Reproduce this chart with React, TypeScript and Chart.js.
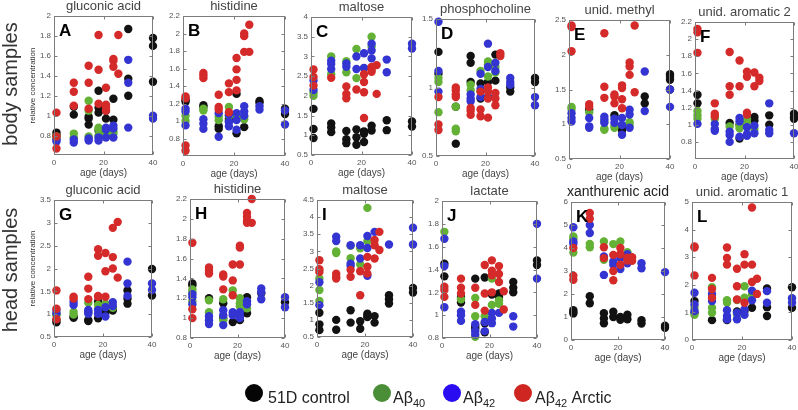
import { useEffect, useRef } from 'react';
import { Chart, registerables } from 'chart.js';

Chart.register(...registerables);

type Pt = [number, number];

// ---------- DATA: [age (days), relative concentration] ----------
const A_black: Pt[] = [[1,.83],[1,.80],[8,1.09],[8,1.01],[14,.99],[14,.97],[14,.91],[18,1.25],[18,1.08],[18,1.03],[18,.85],[21,1.05],[21,.97],[24,1.17],[24,.96],[30,1.87],[30,1.37],[30,1.20],[40,1.78],[40,1.70],[40,1.34]];
const A_green: Pt[] = [[1,.79],[1,.77],[8,.82],[8,.78],[14,1.15],[14,1.05],[14,.79],[18,.88],[18,.86],[18,.80],[21,.83],[21,.80],[24,.84],[24,.82]];
const A_blue: Pt[] = [[1,.76],[1,.74],[8,.76],[8,.73],[14,.77],[14,.75],[18,.78],[18,.75],[21,.88],[21,.86],[21,.78],[24,.90],[24,.87],[24,.78],[30,1.56],[30,1.33],[30,.88],[40,1.00],[40,.97]];
const A_red: Pt[] = [[1,1.03],[1,.79],[1,.67],[8,1.33],[8,1.24],[8,1.10],[14,1.50],[14,1.33],[14,1.07],[18,1.81],[18,1.46],[18,1.12],[21,1.28],[21,1.11],[21,1.08],[21,1.05],[24,1.57],[24,1.55],[24,1.49],[26,1.81],[26,1.42]];

const B_black: Pt[] = [[1,1.24],[1,1.22],[8,1.18],[8,1.16],[14,.94],[14,.91],[18,1.03],[18,1.00],[21,1.31],[21,.86],[24,.93],[30,1.23],[30,1.21],[40,1.14],[40,1.08]];
const B_green: Pt[] = [[1,1.06],[1,1.00],[8,1.14],[8,1.12],[14,1.05],[14,1.01],[18,1.16],[18,1.06],[21,1.04],[24,1.05],[24,1.02]];
const B_blue: Pt[] = [[1,1.14],[1,1.11],[1,.95],[8,1.02],[8,.97],[8,.91],[14,1.09],[14,.82],[18,1.07],[18,.99],[18,.94],[21,1.09],[21,1.01],[21,.90],[24,1.17],[24,1.11],[24,1.06],[30,1.17],[30,1.13],[40,1.12],[40,.96]];
const B_red: Pt[] = [[1,1.28],[1,1.26],[1,.72],[1,.66],[8,1.55],[8,1.52],[8,1.49],[14,1.30],[14,1.16],[14,1.13],[18,1.43],[18,1.33],[18,1.10],[21,1.72],[21,1.59],[21,1.47],[21,1.35],[24,2.00],[24,1.97],[24,1.79],[26,2.10],[26,1.79]];

const C_black: Pt[] = [[1,1.67],[1,1.16],[1,.93],[8,1.30],[8,1.20],[8,1.08],[14,1.11],[14,.90],[14,.80],[18,1.15],[18,.95],[18,.76],[21,1.10],[21,1.04],[21,.83],[24,1.24],[24,1.12],[30,1.38],[30,1.13],[40,1.35],[40,1.22]];
const C_green: Pt[] = [[1,2.08],[1,2.00],[8,3.00],[8,2.55],[14,2.88],[14,2.60],[18,3.19],[18,2.45],[21,2.70],[24,3.50],[24,3.25]];
const C_blue: Pt[] = [[1,2.39],[1,2.15],[8,2.89],[8,2.81],[8,2.68],[14,2.82],[14,2.74],[18,3.00],[18,2.68],[21,3.08],[21,2.71],[24,3.32],[24,3.15],[24,2.95],[30,2.92],[30,2.60],[40,3.32],[40,3.20]];
const C_red: Pt[] = [[1,2.67],[1,2.48],[1,2.26],[8,2.46],[14,2.24],[14,2.05],[14,1.94],[18,2.16],[21,2.55],[21,2.35],[21,2.09],[21,1.44],[24,2.73],[24,2.66],[24,2.61],[26,2.78],[26,2.05]];

const D_black: Pt[] = [[1,1.26],[1,1.10],[8,.86],[8,.59],[14,1.23],[14,1.18],[14,1.04],[18,1.03],[18,.92],[21,1.04],[21,.93],[24,1.24],[24,1.05],[30,1.00],[30,.97],[40,1.07],[40,1.04]];
const D_green: Pt[] = [[1,1.07],[1,1.04],[1,.82],[8,.86],[8,.70],[8,.68],[14,1.02],[14,.98],[18,1.12],[18,.97],[21,1.19],[21,1.17],[21,1.08],[24,1.15],[24,1.11]];
const D_blue: Pt[] = [[1,1.48],[1,1.12],[1,.97],[14,.95],[14,.92],[14,.90],[18,1.10],[18,.99],[18,.93],[21,1.32],[21,1.15],[21,.93],[24,1.18],[24,1.12],[30,1.07],[30,1.04],[30,1.02],[40,.93],[40,.87]];
const D_red: Pt[] = [[1,.93],[1,.73],[1,.69],[8,1.00],[8,.98],[8,.95],[8,.93],[14,.85],[14,.83],[14,.80],[18,.97],[18,.84],[18,.79],[21,1.00],[21,.97],[21,.92],[21,.78],[24,.96],[24,.92],[24,.87],[26,1.25],[26,1.23]];

const E_black: Pt[] = [[8,1.21],[18,1.13],[21,.94],[21,.91],[30,1.40],[30,1.30],[40,1.72],[40,1.68],[40,1.64],[40,1.50]];
const E_green: Pt[] = [[1,1.25],[1,1.22],[8,1.17],[14,1.04],[14,.94],[14,.92],[18,.98],[18,.95],[24,1.03],[24,.99]];
const E_blue: Pt[] = [[1,1.16],[1,1.09],[1,1.04],[8,1.09],[8,.97],[8,.95],[14,1.11],[14,1.07],[14,1.02],[18,1.08],[18,1.02],[21,1.09],[21,.99],[21,.85],[24,1.21],[24,1.14],[24,.95],[30,1.76],[30,1.19],[40,1.50],[40,1.25]];
const E_red: Pt[] = [[1,2.42],[1,2.40],[1,2.05],[8,1.29],[8,1.25],[14,2.31],[14,1.54],[14,1.38],[18,1.43],[18,1.40],[18,1.30],[21,1.56],[21,1.52],[21,1.36],[21,1.23],[24,1.89],[24,1.83],[24,1.71],[26,2.42],[26,1.46]];

const F_black: Pt[] = [[1,1.35],[1,1.25],[14,1.02],[18,1.00],[18,.84],[24,1.09],[24,1.05],[30,1.11],[30,1.00],[40,1.13],[40,1.09],[40,1.07]];
const F_green: Pt[] = [[1,1.16],[1,1.11],[1,1.07],[8,1.07],[14,.98],[18,.99],[18,.96],[21,1.06],[21,1.03],[24,.95]];
const F_blue: Pt[] = [[1,1.01],[8,1.01],[8,.95],[8,.93],[14,.92],[14,.88],[14,.80],[18,1.08],[18,1.04],[18,.86],[21,.97],[21,.89],[21,.87],[24,.99],[24,.90],[30,1.25],[30,.94],[30,.90],[40,.90]];
const F_red: Pt[] = [[1,2.12],[1,2.08],[1,1.84],[8,1.25],[8,1.13],[8,1.10],[14,1.85],[14,1.45],[14,1.35],[18,1.75],[18,1.45],[21,1.62],[21,1.56],[21,1.14],[21,1.12],[24,1.61],[24,1.45],[26,1.55],[26,1.51]];

const G_black: Pt[] = [[1,.87],[1,.82],[8,.94],[8,.92],[14,.87],[14,.85],[18,1.28],[18,.91],[21,1.10],[21,1.03],[24,1.12],[24,1.08],[30,1.52],[30,1.34],[30,1.23],[40,1.99],[40,1.41]];
const G_green: Pt[] = [[1,1.00],[1,.98],[8,1.05],[8,.99],[14,1.25],[14,1.05],[18,1.20],[18,1.12],[21,1.23],[21,1.18],[24,1.14]];
const G_blue: Pt[] = [[1,1.09],[1,1.02],[8,1.27],[8,1.20],[14,1.09],[14,1.05],[14,1.01],[18,1.09],[18,1.01],[21,1.15],[21,.95],[24,1.26],[24,1.18],[30,2.15],[30,1.67],[30,1.40],[40,1.67],[40,1.53]];
const G_red: Pt[] = [[1,1.52],[1,1.12],[1,.89],[8,1.38],[8,1.34],[14,1.82],[14,1.56],[14,1.33],[18,2.42],[18,2.28],[18,1.40],[18,1.38],[21,2.34],[21,1.94],[21,1.38],[24,2.89],[24,2.25],[24,2.00],[26,3.02],[26,1.80]];

const H_black: Pt[] = [[1,1.35],[1,1.33],[8,1.20],[14,1.15],[14,1.00],[18,.96],[21,.98],[24,1.21],[24,1.05],[30,1.25],[40,1.16]];
const H_green: Pt[] = [[1,1.29],[1,1.26],[1,1.17],[8,1.18],[8,1.06],[14,1.19],[14,.98],[18,1.28],[21,1.20],[21,1.15],[21,1.12],[24,1.10]];
const H_blue: Pt[] = [[1,1.24],[1,1.21],[1,1.14],[8,1.02],[8,.98],[8,.94],[14,1.08],[14,1.03],[14,.93],[18,1.06],[18,1.03],[21,1.06],[21,1.02],[21,1.00],[24,1.17],[24,1.14],[30,1.30],[30,1.26],[30,1.19],[40,1.21],[40,1.11]];
const H_red: Pt[] = [[1,1.76],[1,1.09],[1,1.00],[8,1.51],[8,1.48],[8,1.45],[14,1.44],[14,1.42],[14,1.29],[18,1.54],[18,1.38],[18,1.23],[21,1.73],[21,1.71],[21,1.54],[24,2.06],[24,2.02],[24,1.98],[24,1.96],[26,2.20],[26,1.96]];

const I_black: Pt[] = [[1,1.21],[1,.87],[1,.70],[8,1.00],[8,.71],[14,1.28],[14,.92],[18,.96],[18,.74],[21,1.18],[21,1.12],[21,1.08],[24,1.11],[24,.92],[30,1.72],[30,1.60],[30,1.48],[40,1.93],[40,1.80]];
const I_green: Pt[] = [[1,2.21],[1,1.87],[1,1.55],[8,3.00],[8,2.95],[14,3.16],[14,2.80],[18,3.09],[18,2.62],[21,4.27],[21,3.30]];
const I_blue: Pt[] = [[1,2.10],[1,1.43],[8,3.43],[8,3.30],[14,3.18],[14,2.64],[14,2.57],[18,3.18],[18,2.79],[21,3.45],[21,3.10],[21,2.29],[24,3.57],[30,3.20],[40,3.69],[40,3.20]];
const I_red: Pt[] = [[1,2.74],[1,2.48],[1,2.40],[8,2.35],[8,2.26],[8,2.21],[14,2.46],[14,2.26],[18,2.42],[18,1.72],[21,2.84],[21,2.55],[21,2.35],[24,3.33],[24,3.18],[24,2.79],[26,3.57],[26,3.04]];

const J_black: Pt[] = [[1,1.45],[1,1.34],[8,1.16],[8,1.11],[14,1.32],[14,.90],[14,.88],[18,1.33],[18,.93],[18,.85],[21,1.18],[24,1.19],[24,1.16],[30,1.29],[30,1.24],[30,1.20],[40,1.48],[40,1.44]];
const J_green: Pt[] = [[1,1.73],[8,1.14],[14,1.15],[14,.99],[14,.81],[18,.99],[21,1.32],[21,1.09],[24,1.13],[24,1.10]];
const J_blue: Pt[] = [[1,1.67],[1,1.43],[1,1.07],[8,1.03],[8,1.00],[8,.95],[14,.92],[14,.86],[14,.83],[18,.94],[18,.86],[21,1.02],[21,.97],[21,.93],[24,1.02],[30,.99],[30,.90],[40,1.80],[40,1.32]];
const J_red: Pt[] = [[1,1.25],[1,1.22],[1,1.16],[8,1.32],[8,1.24],[8,1.19],[14,1.24],[14,1.09],[18,1.44],[18,1.19],[18,1.04],[21,1.48],[21,1.39],[21,1.35],[21,1.20],[24,1.43],[24,1.36],[24,1.29],[26,1.21],[26,1.05]];

const K_black: Pt[] = [[1,1.30],[1,1.22],[1,1.15],[8,1.90],[8,1.60],[14,1.16],[14,.94],[14,.73],[18,1.23],[18,1.00],[21,1.00],[21,.88],[24,1.10],[24,.90],[30,.86],[30,.72],[40,.62],[40,.53]];
const K_green: Pt[] = [[1,4.50],[1,4.40],[1,3.80],[8,4.18],[8,4.03],[14,4.28],[14,3.49],[18,4.17],[21,4.28],[24,3.82]];
const K_blue: Pt[] = [[1,4.90],[1,4.28],[1,4.18],[8,5.00],[8,4.65],[14,3.63],[14,2.83],[18,3.41],[18,3.27],[21,3.56],[21,3.09],[24,3.73],[24,3.34],[30,3.34],[30,3.12],[40,2.95]];
const K_red: Pt[] = [[1,4.00],[1,2.80],[1,2.62],[8,5.52],[8,5.27],[14,4.03],[14,3.56],[18,3.70],[18,3.00],[18,2.60],[21,4.00],[21,3.73],[21,3.27],[24,3.58],[24,3.45],[26,3.60],[26,3.44]];

const L_black: Pt[] = [[1,1.41],[1,.99],[8,.72],[14,.72],[18,1.03],[21,1.05],[24,1.17],[30,1.87],[30,1.19],[30,.87],[40,1.91],[40,1.17]];
const L_green: Pt[] = [[1,1.17],[1,.91],[8,1.91],[8,1.17],[8,.99],[14,1.44],[14,1.35],[18,1.45],[18,.93],[21,1.95],[21,1.53],[24,1.65]];
const L_blue: Pt[] = [[1,1.71],[1,1.29],[1,1.05],[8,1.67],[8,1.41],[14,1.08],[14,.87],[14,.75],[18,.99],[18,.75],[21,1.11],[21,.91],[24,1.79],[24,1.44],[30,1.77],[30,1.35],[40,1.51],[40,1.35]];
const L_red: Pt[] = [[1,3.39],[1,3.35],[1,2.34],[8,2.25],[8,1.85],[8,1.53],[14,3.35],[14,2.97],[14,2.73],[18,2.58],[18,1.95],[18,1.47],[21,3.11],[21,2.73],[21,1.35],[24,4.80],[24,2.73],[24,2.10],[26,2.22],[26,1.67]];

// ---------- TICKS ----------
const X_TICKS = [0, 20, 40];
const T_08_20 = [0.8, 1, 1.2, 1.4, 1.6, 1.8, 2];
const T_08_22 = [0.8, 1, 1.2, 1.4, 1.6, 1.8, 2, 2.2];
const T_05_40 = [0.5, 1, 1.5, 2, 2.5, 3, 3.5, 4];
const T_05_15 = [0.5, 1, 1.5];
const T_05_25 = [0.5, 1, 1.5, 2, 2.5];
const T_05_35 = [0.5, 1, 1.5, 2, 2.5, 3, 3.5];
const T_05_45 = [0.5, 1, 1.5, 2, 2.5, 3, 3.5, 4, 4.5];
const T_0_6 = [0, 1, 2, 3, 4, 5, 6];
const T_0_5 = [0, 1, 2, 3, 4, 5];

const GROUP_NAMES = ['51D control', 'Aβ40', 'Aβ42', 'Aβ42 Arctic'];
const DOT_COLORS = ['#121212', '#63b236', '#3434d2', '#d42a2a'];
const LEGEND_COLORS = ['#050505', '#4a8e37', '#2a0cf0', '#d02622'];

const FONT = '"Liberation Sans", Arial, Helvetica, sans-serif';

interface Panel {
  title: string;
  letter: string;
  box: [number, number, number, number];
  yMin: number;
  yMax: number;
  yTicks: number[];
  groups: Pt[][];
  yTitle?: boolean;
  big?: boolean;
}

const PANELS: Panel[] = [
  { title: 'gluconic acid', letter: 'A', box: [54, 16, 153, 155], yMin: 0.605, yMax: 2, yTicks: T_08_20, groups: [A_black, A_green, A_blue, A_red], yTitle: true },
  { title: 'histidine', letter: 'B', box: [183, 16, 285, 156], yMin: 0.6, yMax: 2.2, yTicks: T_08_22, groups: [B_black, B_green, B_blue, B_red] },
  { title: 'maltose', letter: 'C', box: [311, 17, 412, 155], yMin: 0.5, yMax: 4, yTicks: T_05_40, groups: [C_black, C_green, C_blue, C_red] },
  { title: 'phosphocholine', letter: 'D', box: [436, 19, 535, 156], yMin: 0.5, yMax: 1.5, yTicks: T_05_15, groups: [D_black, D_green, D_blue, D_red] },
  { title: 'unid. methyl', letter: 'E', box: [569, 20, 670, 159], yMin: 0.5, yMax: 2.5, yTicks: T_05_25, groups: [E_black, E_green, E_blue, E_red] },
  { title: 'unid. aromatic 2', letter: 'F', box: [695, 22, 794, 159], yMin: 0.6, yMax: 2.2, yTicks: T_08_22, groups: [F_black, F_green, F_blue, F_red] },
  { title: 'gluconic acid', letter: 'G', box: [54, 200, 152, 337], yMin: 0.5, yMax: 3.5, yTicks: T_05_35, groups: [G_black, G_green, G_blue, G_red], yTitle: true },
  { title: 'histidine', letter: 'H', box: [190, 199, 285, 338], yMin: 0.8, yMax: 2.2, yTicks: T_08_22, groups: [H_black, H_green, H_blue, H_red] },
  { title: 'maltose', letter: 'I', box: [317, 200, 413, 337], yMin: 0.5, yMax: 4.5, yTicks: T_05_45, groups: [I_black, I_green, I_blue, I_red] },
  { title: 'lactate', letter: 'J', box: [442, 201, 537, 338], yMin: 0.8, yMax: 2, yTicks: T_08_20, groups: [J_black, J_green, J_blue, J_red] },
  { title: 'xanthurenic acid', letter: 'K', box: [571, 202, 665, 340], yMin: 0, yMax: 6, yTicks: T_0_6, groups: [K_black, K_green, K_blue, K_red], big: true },
  { title: 'unid. aromatic 1', letter: 'L', box: [692, 202, 792, 340], yMin: 0, yMax: 5, yTicks: T_0_5, groups: [L_black, L_green, L_blue, L_red] },
];

const Y_W = 28;
const PAD_T = 8;
const PAD_R = 10;
const X_H = 24;

const fmt = (v: number) => String(Math.round(v * 100) / 100);

function PanelChart({ p }: { p: Panel }) {
  const ref = useRef<HTMLCanvasElement>(null);
  const [l, t, r, b] = p.box;
  const W = r - l + Y_W + PAD_R;
  const H = b - t + PAD_T + X_H;

  useEffect(() => {
    if (!ref.current) return;
    const frame = {
      id: 'frame',
      afterDatasetsDraw(chart: any) {
        const { ctx, chartArea: a, scales } = chart;
        ctx.save();
        ctx.strokeStyle = '#7c7c7c';
        ctx.lineWidth = 1;
        const L = Math.round(a.left) + 0.5;
        const R = Math.round(a.right) - 0.5;
        const T = Math.round(a.top) + 0.5;
        const B = Math.round(a.bottom) - 0.5;
        ctx.beginPath();
        for (const tk of scales.y.ticks) {
          const y = Math.round(scales.y.getPixelForValue(tk.value)) + 0.5;
          ctx.moveTo(L, y); ctx.lineTo(L + 3, y);
          ctx.moveTo(R, y); ctx.lineTo(R - 3, y);
        }
        for (const tk of scales.x.ticks) {
          const x = Math.round(scales.x.getPixelForValue(tk.value)) + 0.5;
          ctx.moveTo(x, B); ctx.lineTo(x, B - 3);
          ctx.moveTo(x, T); ctx.lineTo(x, T + 3);
        }
        ctx.stroke();
        ctx.strokeRect(L, T, R - L, B - T);
        ctx.restore();
      },
    };
    const order = [3, 2, 1, 0];
    const chart = new Chart(ref.current, {
      type: 'scatter',
      data: {
        datasets: order.map((gi) => ({
          label: GROUP_NAMES[gi],
          data: p.groups[gi].map(([x, y]) => ({ x, y })),
          backgroundColor: DOT_COLORS[gi],
          borderWidth: 0,
          pointRadius: 4.2,
          pointBorderWidth: 0,
          clip: false as any,
        })),
      },
      options: {
        responsive: false,
        animation: false,
        events: [],
        devicePixelRatio: 1,
        layout: { padding: { top: PAD_T, right: PAD_R, left: 0, bottom: 0 } },
        plugins: { legend: { display: false }, tooltip: { enabled: false }, title: { display: false } },
        scales: {
          x: {
            type: 'linear',
            min: 0,
            max: 40,
            grid: { display: false, drawTicks: false },
            border: { display: false },
            afterBuildTicks: (s: any) => { s.ticks = X_TICKS.map((v) => ({ value: v })); },
            afterFit: (s: any) => { s.height = X_H; s.paddingLeft = 0; s.paddingRight = 0; },
            ticks: { color: '#555', font: { family: FONT, size: 8 }, padding: 3, autoSkip: false, maxRotation: 0, callback: (v: any) => fmt(Number(v)) },
            title: { display: true, text: 'age (days)', color: '#444', font: { family: FONT, size: 10 }, padding: 0 },
          },
          y: {
            type: 'linear',
            min: p.yMin,
            max: p.yMax,
            grid: { display: false, drawTicks: false },
            border: { display: false },
            afterBuildTicks: (s: any) => { s.ticks = p.yTicks.map((v) => ({ value: v })); },
            afterFit: (s: any) => { s.width = Y_W; s.paddingTop = 0; s.paddingBottom = 0; },
            ticks: { color: '#555', font: { family: FONT, size: 8 }, padding: 3, autoSkip: false, callback: (v: any) => fmt(Number(v)) },
            title: { display: !!p.yTitle, text: 'relative concentration', color: '#333', font: { family: FONT, size: 8 }, padding: { top: 2, bottom: 0 } },
          },
        },
      } as any,
      plugins: [frame],
    });
    return () => chart.destroy();
  }, []);

  return (
    <canvas
      ref={ref}
      width={W}
      height={H}
      style={{ position: 'absolute', left: l - Y_W, top: t - PAD_T, width: W, height: H }}
    />
  );
}

function PanelText({ p }: { p: Panel }) {
  const [l, t, r] = p.box;
  const cx = (l + r) / 2;
  const ts = p.big ? 14 : 13;
  const base = t - 6;
  return (
    <>
      <div
        style={{
          position: 'absolute', left: cx - 100, width: 200, top: base - 0.85 * ts, textAlign: 'center',
          fontFamily: FONT, fontSize: ts, lineHeight: `${ts}px`, color: p.big ? '#222' : '#444', whiteSpace: 'nowrap',
        }}
      >
        {p.title}
      </div>
      <div
        style={{
          position: 'absolute', left: l + 5, top: t + 20 - 0.85 * 17, fontFamily: FONT, fontSize: 17,
          lineHeight: '17px', fontWeight: 'bold', color: '#000',
        }}
      >
        {p.letter}
      </div>
    </>
  );
}

function RowLabel({ text, cy }: { text: string; cy: number }) {
  return (
    <div
      style={{
        position: 'absolute', left: 10 - 100, top: cy - 10, width: 200, height: 20, textAlign: 'center',
        fontFamily: FONT, fontSize: 20, lineHeight: '20px', color: '#333', transform: 'rotate(-90deg)',
        transformOrigin: '50% 50%', whiteSpace: 'nowrap',
      }}
    >
      {text}
    </div>
  );
}

const LEGEND_POS = [
  { cx: 254, tx: 268 },
  { cx: 382, tx: 393 },
  { cx: 452, tx: 463 },
  { cx: 523, tx: 535 },
];

function LegendLabel({ i }: { i: number }) {
  const sub = { fontSize: 11, verticalAlign: 'baseline', position: 'relative' as const, top: 4 };
  if (i === 0) return <>51D control</>;
  if (i === 1) return <>Aβ<span style={sub}>40</span></>;
  if (i === 2) return <>Aβ<span style={sub}>42</span></>;
  return <>Aβ<span style={sub}>42</span> Arctic</>;
}

export default function App() {
  return (
    <div style={{ position: 'absolute', left: 0, top: 0, width: 798, height: 410, background: '#fff', overflow: 'hidden' }}>
      {PANELS.map((p, i) => (
        <PanelChart key={'c' + i} p={p} />
      ))}
      {PANELS.map((p, i) => (
        <PanelText key={'t' + i} p={p} />
      ))}
      <RowLabel text="body samples" cy={84} />
      <RowLabel text="head samples" cy={270} />
      {LEGEND_POS.map((lp, i) => (
        <div key={'l' + i}>
          <div
            style={{
              position: 'absolute', left: lp.cx - 9, top: 393 - 9, width: 18, height: 18, borderRadius: '50%',
              background: LEGEND_COLORS[i],
            }}
          />
          <div
            style={{
              position: 'absolute', left: lp.tx, top: 404 - 0.85 * 16, fontFamily: FONT, fontSize: 16,
              lineHeight: '16px', color: '#222', whiteSpace: 'nowrap',
            }}
          >
            <LegendLabel i={i} />
          </div>
        </div>
      ))}
    </div>
  );
}
